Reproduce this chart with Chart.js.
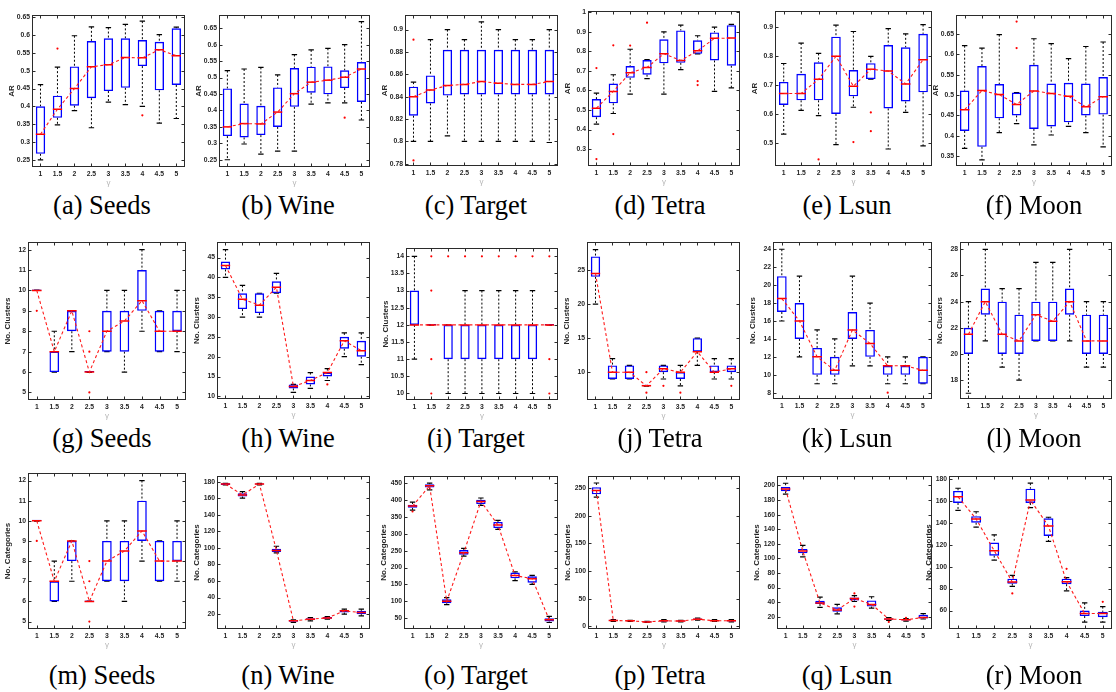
<!DOCTYPE html>
<html><head><meta charset="utf-8">
<script src="https://cdn.jsdelivr.net/npm/chart.js@4.4.1/dist/chart.umd.min.js"></script>
<style>
html,body{margin:0;padding:0;background:#fff;}
body{width:1116px;height:692px;position:relative;overflow:hidden;}
canvas{position:absolute;}
.cap{position:absolute;font-family:"Liberation Serif","Times New Roman",serif;font-size:26.5px;color:#000;white-space:nowrap;transform:translate(-50%,-50%);line-height:1;}
</style></head><body>
<script>
// ---------- categories ----------
const gammas = ['1','1.5','2','2.5','3','3.5','4','4.5','5'];
const captions = ['(a) Seeds','(b) Wine','(c) Target','(d) Tetra','(e) Lsun','(f) Moon',
                  '(g) Seeds','(h) Wine','(i) Target','(j) Tetra','(k) Lsun','(l) Moon',
                  '(m) Seeds','(n) Wine','(o) Target','(p) Tetra','(q) Lsun','(r) Moon'];
const yTitles = ['AR','No. Clusters','No. Categories'];

// ---------- (a) Seeds AR ----------
const aLo  = [0.25, 0.348, 0.388, 0.34, 0.412, 0.405, 0.40, 0.353, 0.366];
const aQ1  = [0.267, 0.368, 0.402, 0.423, 0.443, 0.452, 0.513, 0.445, 0.46];
const aMed = [0.322, 0.392, 0.45, 0.511, 0.517, 0.537, 0.536, 0.559, 0.542];
const aQ3  = [0.40, 0.43, 0.512, 0.583, 0.591, 0.591, 0.586, 0.581, 0.619];
const aHi  = [0.461, 0.51, 0.598, 0.623, 0.621, 0.63, 0.639, 0.601, 0.622];
const aOut = [[1,0.562],[6,0.375]];
const aTicks = [0.25,0.3,0.35,0.4,0.45,0.5,0.55,0.6,0.65];
// ---------- (b) Wine AR ----------
const bLo  = [0.25, 0.298, 0.267, 0.276, 0.276, 0.419, 0.423, 0.423, 0.371];
const bQ1  = [0.322, 0.318, 0.325, 0.35, 0.411, 0.454, 0.449, 0.468, 0.426];
const bMed = [0.35, 0.36, 0.359, 0.395, 0.451, 0.486, 0.492, 0.501, 0.526];
const bQ3  = [0.467, 0.421, 0.414, 0.47, 0.529, 0.533, 0.534, 0.522, 0.547];
const bHi  = [0.521, 0.526, 0.531, 0.508, 0.57, 0.584, 0.589, 0.60, 0.67];
const bOut = [[7,0.378]];
const bTicks = [0.25,0.3,0.35,0.4,0.45,0.5,0.55,0.6,0.65];
// ---------- (c) Target AR ----------
const cLo  = [0.80, 0.80, 0.805, 0.80, 0.80, 0.80, 0.80, 0.80, 0.799];
const cQ1  = [0.823, 0.834, 0.841, 0.842, 0.842, 0.842, 0.842, 0.842, 0.842];
const cMed = [0.840, 0.846, 0.850, 0.851, 0.8535, 0.852, 0.851, 0.851, 0.8535];
const cQ3  = [0.849, 0.859, 0.882, 0.882, 0.882, 0.882, 0.882, 0.882, 0.882];
const cHi  = [0.853, 0.891, 0.90, 0.891, 0.907, 0.90, 0.891, 0.891, 0.90];
const cOut = [[0,0.891],[0,0.783]];
const cTicks = [0.78,0.8,0.82,0.84,0.86,0.88,0.9];
// ---------- (d) Tetra AR ----------
const dLo  = [0.428, 0.482, 0.581, 0.66, 0.581, 0.706, 0.787, 0.595, 0.613];
const dQ1  = [0.463, 0.534, 0.664, 0.68, 0.738, 0.741, 0.787, 0.753, 0.726];
const dMed = [0.509, 0.595, 0.69, 0.7175, 0.787, 0.753, 0.802, 0.866, 0.867];
const dQ3  = [0.556, 0.635, 0.724, 0.755, 0.861, 0.906, 0.856, 0.896, 0.933];
const dHi  = [0.586, 0.68, 0.81, 0.757, 0.899, 0.933, 0.879, 0.923, 0.937];
const dOut = [[0,0.714],[0,0.2495],[1,0.83],[1,0.377],[2,0.829],[3,0.946],[6,0.647],[6,0.627]];
const dTicks = [0.3,0.4,0.5,0.6,0.7,0.8,0.9,1];
// ---------- (e) Lsun AR ----------
const eLo  = [0.53, 0.612, 0.594, 0.493, 0.623, 0.721, 0.478, 0.605, 0.489];
const eQ1  = [0.631, 0.647, 0.647, 0.60, 0.661, 0.721, 0.619, 0.643, 0.675];
const eMed = [0.671, 0.671, 0.72, 0.80, 0.696, 0.755, 0.749, 0.704, 0.788];
const eQ3  = [0.711, 0.739, 0.779, 0.868, 0.752, 0.776, 0.839, 0.831, 0.878];
const eHi  = [0.775, 0.846, 0.81, 0.908, 0.886, 0.80, 0.896, 0.878, 0.91];
const eOut = [[2,0.442],[4,0.502],[5,0.605],[5,0.54]];
const eTicks = [0.5,0.6,0.7,0.8,0.9];
// ---------- (f) Moon AR ----------
const fLo  = [0.369, 0.341, 0.408, 0.43, 0.378, 0.402, 0.423, 0.408, 0.373];
const fQ1  = [0.412, 0.373, 0.443, 0.45, 0.417, 0.423, 0.433, 0.45, 0.452];
const fMed = [0.464, 0.511, 0.501, 0.477, 0.51, 0.504, 0.497, 0.471, 0.496];
const fQ3  = [0.511, 0.571, 0.527, 0.506, 0.574, 0.528, 0.53, 0.528, 0.544];
const fHi  = [0.621, 0.615, 0.648, 0.506, 0.638, 0.626, 0.589, 0.619, 0.63];
const fOut = [[3,0.68],[3,0.615]];
const fTicks = [0.35,0.4,0.45,0.5,0.55,0.6,0.65];
// ---------- (g) Seeds No. Clusters ----------
const gLo  = [10, 6, 7, 6, 7, 6, 8, 7, 7];
const gQ1  = [10, 6, 8, 6, 7, 7, 9, 7, 8];
const gMed = [10, 7, 9, 6, 8, 8.5, 9.5, 8, 8];
const gQ3  = [10, 7, 9, 6, 9, 9, 11, 9, 9];
const gHi  = [10, 8, 9, 6, 10, 10, 12, 9, 10];
const gOut = [[0,9],[3,8],[3,7],[3,5]];
const gTicks = [5,6,7,8,9,10,11,12];
// ---------- (h) Wine No. Clusters ----------
const hLo  = [40, 30, 30, 36, 11, 12, 14, 20, 18];
const hQ1  = [42, 32, 31, 36, 12, 13, 15, 22, 20];
const hMed = [43, 34.5, 33, 37.5, 12.5, 14, 16, 24, 21.5];
const hQ3  = [44, 36, 36, 39, 13, 15, 16, 25, 24];
const hHi  = [47, 38, 36, 41, 13, 16, 17, 26, 26];
const hOut = [[6,13]];
const hTicks = [10,15,20,25,30,35,40,45];
// ---------- (i) Target No. Clusters ----------
const iLo  = [11, 12, 10, 10, 10, 10, 10, 10, 12];
const iQ1  = [12, 12, 11, 11, 11, 11, 11, 11, 12];
const iMed = [12, 12, 12, 12, 12, 12, 12, 12, 12];
const iQ3  = [13, 12, 12, 12, 12, 12, 12, 12, 12];
const iHi  = [14, 12, 12, 13, 13, 13, 13, 13, 12];
const iOut = [[1,14],[1,13],[1,11],[1,10],[2,14],[3,14],[4,14],[5,14],[6,14],[7,14],[8,14],[8,11],[8,10]];
const iTicks = [10,10.5,11,11.5,12,12.5,13,13.5,14];
// ---------- (j) Tetra No. Clusters ----------
const jLo  = [20, 9, 9, 8, 9, 8, 11, 9, 9];
const jQ1  = [24, 9, 9, 8, 10, 9, 13, 10, 10];
const jMed = [24.5, 10, 10, 8, 10.5, 10, 13, 10, 10.5];
const jQ3  = [27, 11, 11, 8, 11, 10, 15, 11, 11];
const jHi  = [28, 12, 11, 8, 11, 11, 15, 12, 12];
const jOut = [[3,10],[3,7],[4,8],[5,7],[8,8]];
const jTicks = [10,15,20,25];
// ---------- (k) Lsun No. Clusters ----------
const kLo  = [16, 12, 9, 9, 11, 11, 9, 9, 9];
const kQ1  = [17, 14, 10, 10, 14, 12, 10, 10, 9];
const kMed = [18.5, 16, 12, 10.5, 15, 13.5, 11, 11, 10.5];
const kQ3  = [21, 18, 13, 12, 17, 15, 11, 11, 12];
const kHi  = [24, 21, 15, 14, 21, 18, 12, 12, 12];
const kOut = [[6,8]];
const kTicks = [8,10,12,14,16,18,20,22,24];
// ---------- (l) Moon No. Clusters ----------
const lLo  = [17, 21, 19, 18, 21, 21, 21, 19, 19];
const lQ1  = [20, 23, 20, 20, 21, 21, 23, 20, 20];
const lMed = [21.5, 24, 21.5, 21, 23, 22.5, 24, 21, 21];
const lQ3  = [22, 25, 24, 23, 24, 24, 25, 23, 23];
const lHi  = [24, 28, 25, 25, 27, 27, 28, 24, 24];
const lOut = [];
const lTicks = [18,20,22,24,26,28];
// ---------- (m) Seeds No. Categories ----------
const mLo  = [10, 6, 7, 6, 7, 6, 8, 7, 7];
const mQ1  = [10, 6, 8, 6, 7, 7, 9, 7, 8];
const mMed = [10, 7, 9, 6, 8, 8.5, 9.5, 8, 8];
const mQ3  = [10, 7, 9, 6, 9, 9, 11, 9, 9];
const mHi  = [10, 8, 9, 6, 10, 10, 12, 9, 10];
const mOut = [[0,9],[3,8],[3,7],[3,5]];
const mTicks = [5,6,7,8,9,10,11,12];
// ---------- (n) Wine No. Categories ----------
const nLo  = [176, 160, 176, 94, 10, 12, 14, 20, 18];
const nQ1  = [176, 162, 176.5, 95, 11, 13, 14.5, 22, 20];
const nMed = [177, 164, 177, 97, 12, 14, 15.5, 24, 22];
const nQ3  = [178, 166, 177.5, 99, 13, 15, 16.5, 25, 24];
const nHi  = [178, 168, 178, 102, 13, 16, 17, 26, 26];
const nOut = [];
const nTicks = [20,40,60,80,100,120,140,160,180];
// ---------- (o) Target No. Categories ----------
const oLo  = [370, 430, 90, 234, 384, 313, 161, 150, 37];
const oQ1  = [377, 437, 94, 238, 388, 317, 168, 155, 40];
const oMed = [382, 442, 100, 244, 396, 326, 176, 167, 45];
const oQ3  = [386, 447, 106, 252, 401, 335, 185, 174, 50];
const oHi  = [394, 450, 111, 257, 406, 340, 187, 177, 55];
const oOut = [[0,366]];
const oTicks = [50,100,150,200,250,300,350,400,450];
// ---------- (p) Tetra No. Categories ----------
const pLo  = [234, 9, 9, 7, 8, 8, 11, 9, 8];
const pQ1  = [239, 10, 9.5, 7.5, 9, 9, 12, 9.5, 9];
const pMed = [246, 10.5, 10, 8, 10, 9.5, 13, 10, 10];
const pQ3  = [252, 11, 10.5, 8.5, 11, 10, 14, 11, 11];
const pHi  = [259.5, 12, 11, 9, 12, 11, 15, 12, 12];
const pOut = [];
const pTicks = [0,50,100,150,200,250];
// ---------- (q) Lsun No. Categories ----------
const qLo  = [188, 102, 33, 24, 41, 32, 15, 14, 17];
const qQ1  = [192, 107, 37.5, 27, 42.5, 34, 16, 15, 17.7];
const qMed = [195, 110, 39, 29.5, 45, 37, 17, 16, 19];
const qQ3  = [198, 113, 42, 33, 46.5, 42.5, 17.7, 16.4, 22.7];
const qHi  = [203, 118, 47, 37, 49, 47.5, 19, 17.7, 24.5];
const qOut = [[4,52],[4,34],[6,13],[7,18.6]];
const qTicks = [20,40,60,80,100,120,140,160,180,200];
// ---------- (r) Moon No. Categories ----------
const rLo  = [151.3, 136, 106, 82, 153.7, 123, 78, 49.5, 49.5];
const rQ1  = [158, 140, 110, 84.5, 158, 128, 84, 55, 54];
const rMed = [163.6, 143.5, 114.5, 86, 160.6, 137, 86.3, 57.3, 57.3];
const rQ3  = [169, 146, 122, 89, 171, 144, 89, 60, 58.8];
const rHi  = [171.4, 150, 129, 92, 176, 145, 90, 67, 63.6];
const rOut = [[3,75.6],[6,98],[8,68]];
const rTicks = [60,80,100,120,140,160,180];

// ---------- axis limits [min,max] ----------
const yLimits = [
  [0.23,0.656],[0.228,0.69],[0.778,0.913],[0.214,1.005],[0.419,0.957],[0.326,0.696],
  [4.63,12.37],[9.33,48.9],[9.81,14.24],[5.92,29.1],[7.3,24.8],[16.56,28.55],
  [4.63,12.37],[2.1,186.7],[17.8,471],[-4.8,272],[3.3,212.8],[43.2,182.5]
];

// ---------- layout (plot-area boxes: left,right,top,bottom) ----------
const plotBoxes = [
  [32,186,13,167],[219,371,13,167],[405,559,13,166],[588,741,9,166],[775,933,9,166],[956,1113,13,166],
  [28,187,240,400],[217,371,240,399],[406,559,246,400],[587,741,240,400],[773,933,240,399],[960,1113,240,399],
  [28,187,471,629],[217,371,474,629],[404,559,474,629],[588,741,474,629],[777,933,474,629],[949,1113,474,629]
];
const capX = [102,288,476,660,847,1034];
const capY = [205,438,675];

const series = [
  [aLo,aQ1,aMed,aQ3,aHi,aOut,aTicks],[bLo,bQ1,bMed,bQ3,bHi,bOut,bTicks],[cLo,cQ1,cMed,cQ3,cHi,cOut,cTicks],
  [dLo,dQ1,dMed,dQ3,dHi,dOut,dTicks],[eLo,eQ1,eMed,eQ3,eHi,eOut,eTicks],[fLo,fQ1,fMed,fQ3,fHi,fOut,fTicks],
  [gLo,gQ1,gMed,gQ3,gHi,gOut,gTicks],[hLo,hQ1,hMed,hQ3,hHi,hOut,hTicks],[iLo,iQ1,iMed,iQ3,iHi,iOut,iTicks],
  [jLo,jQ1,jMed,jQ3,jHi,jOut,jTicks],[kLo,kQ1,kMed,kQ3,kHi,kOut,kTicks],[lLo,lQ1,lMed,lQ3,lHi,lOut,lTicks],
  [mLo,mQ1,mMed,mQ3,mHi,mOut,mTicks],[nLo,nQ1,nMed,nQ3,nHi,nOut,nTicks],[oLo,oQ1,oMed,oQ3,oHi,oOut,oTicks],
  [pLo,pQ1,pMed,pQ3,pHi,pOut,pTicks],[qLo,qQ1,qMed,qQ3,qHi,qOut,qTicks],[rLo,rQ1,rMed,rQ3,rHi,rOut,rTicks]
];

// ---------- frame plugin: MATLAB-like box with inward ticks ----------
const framePlugin = {
  id: 'frame',
  afterDraw(chart) {
    const {ctx, chartArea: ca, scales: {x, y}} = chart;
    const L = Math.round(ca.left) + 0.5, R = Math.round(ca.right) - 0.5;
    const T = Math.round(ca.top) + 0.5, B = Math.round(ca.bottom) - 0.5;
    ctx.save();
    ctx.strokeStyle = '#2b2b2b';
    ctx.lineWidth = 1;
    ctx.strokeRect(L, T, R - L, B - T);
    ctx.beginPath();
    x.ticks.forEach((t, i) => {
      const px = Math.round(x.getPixelForTick(i)) + 0.5;
      ctx.moveTo(px, B); ctx.lineTo(px, B - 3);
      ctx.moveTo(px, T); ctx.lineTo(px, T + 3);
    });
    y.ticks.forEach(t => {
      const py = Math.round(y.getPixelForValue(t.value)) + 0.5;
      ctx.moveTo(L, py); ctx.lineTo(L + 3, py);
      ctx.moveTo(R, py); ctx.lineTo(R - 3, py);
    });
    ctx.stroke();
    ctx.restore();
  }
};

const YW = 25, PR = 4, PT = 4, XH = 21;
const tickFont = {family: '"Liberation Sans", Arial, sans-serif', size: 6.8, weight: 'bold'};

series.forEach((s, k) => {
  const [lo, q1, med, q3, hi, out, yt] = s;
  const [L, R, T, B] = plotBoxes[k];
  const w = R - L + YW + PR, h = B - T + PT + XH;
  const cv = document.createElement('canvas');
  cv.width = w; cv.height = h;
  cv.style.left = (L - YW) + 'px'; cv.style.top = (T - PT) + 'px';
  cv.style.width = w + 'px'; cv.style.height = h + 'px';
  document.body.appendChild(cv);

  const whisk = [], caps = [];
  gammas.forEach((g, i) => {
    whisk.push({x: g, y: hi[i]}, {x: g, y: q3[i]}, {x: g, y: null},
               {x: g, y: q1[i]}, {x: g, y: lo[i]}, {x: g, y: null});
    caps.push({x: g, y: hi[i]}, {x: g, y: lo[i]});
  });
  const halfBox = ctx => ctx.chart.scales.x.width / gammas.length * 0.55 / 2;

  new Chart(cv, {
    type: 'bar',
    data: {
      labels: gammas,
      datasets: [
        {type: 'line', data: whisk, borderColor: '#000', borderWidth: 1, borderDash: [2, 2],
         pointRadius: 0, spanGaps: false, order: 7},
        {type: 'line', data: caps, showLine: false, pointStyle: 'line', pointRadius: 2.7,
         borderColor: '#000', borderWidth: 1.2, order: 6},
        {type: 'bar', data: q1.map((v, i) => [v, q3[i]]), backgroundColor: 'rgba(0,0,0,0)',
         borderColor: '#0000ff', borderWidth: 1.4, borderSkipped: false, barPercentage: 0.55,
         categoryPercentage: 1, minBarLength: 1, order: 5},
        {type: 'line', data: med, showLine: false, pointStyle: 'line', pointRadius: halfBox,
         borderColor: '#ff0000', borderWidth: 1.5, order: 3},
        {type: 'line', data: med, borderColor: '#ff1a1a', borderWidth: 1.1, borderDash: [3, 2.5],
         pointRadius: 0, fill: false, order: 2},
        {type: 'line', data: out.map(([i, v]) => ({x: gammas[i], y: v})), showLine: false,
         pointStyle: 'circle', pointRadius: 1.1, backgroundColor: '#ff0000', borderColor: '#ff0000',
         borderWidth: 0, order: 1}
      ]
    },
    options: {
      responsive: false, animation: false, devicePixelRatio: 1, events: [],
      layout: {padding: {left: 0, right: PR, top: PT, bottom: 0}},
      plugins: {legend: {display: false}, tooltip: {enabled: false}},
      scales: {
        x: {
          type: 'category', offset: true,
          grid: {display: false, drawTicks: false}, border: {display: false},
          ticks: {font: tickFont, color: '#262626', padding: 3, autoSkip: false, maxRotation: 0},
          title: {display: true, text: 'γ', color: '#b4b4b4', padding: 0,
                  font: {family: '"Liberation Sans", Arial, sans-serif', size: 8}},
          afterFit: sc => { sc.height = XH; }
        },
        y: {
          type: 'linear', min: yLimits[k][0], max: yLimits[k][1],
          grid: {display: false, drawTicks: false}, border: {display: false},
          ticks: {font: tickFont, color: '#262626', padding: 2, autoSkip: false,
                  callback: v => String(v)},
          afterBuildTicks: sc => { sc.ticks = yt.map(v => ({value: v})); },
          title: {display: true, text: yTitles[Math.floor(k / 6)], color: '#262626', padding: 0,
                  font: {family: '"Liberation Sans", Arial, sans-serif', size: 8, weight: 'bold'}},
          afterFit: sc => { sc.width = YW; }
        }
      }
    },
    plugins: [framePlugin]
  });

  const cap = document.createElement('div');
  cap.className = 'cap';
  cap.textContent = captions[k];
  cap.style.left = capX[k % 6] + 'px';
  cap.style.top = capY[Math.floor(k / 6)] + 'px';
  document.body.appendChild(cap);
});
</script>
</body></html>
